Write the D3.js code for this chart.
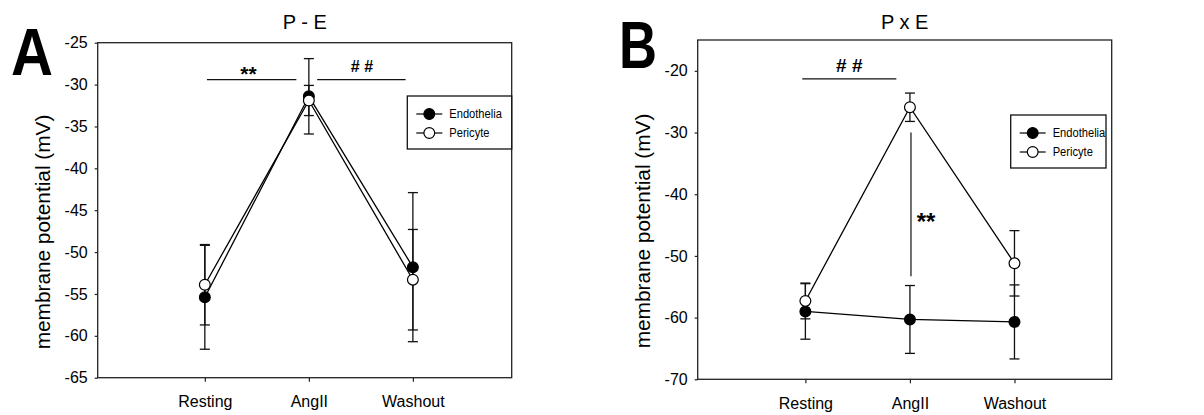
<!DOCTYPE html>
<html>
<head>
<meta charset="utf-8">
<script src="https://cdn.jsdelivr.net/npm/d3@7"></script>
<style>
  body { margin: 0; background: #fff; }
  text { font-family: "Liberation Sans", Arial, sans-serif; fill: #000; }
</style>
</head>
<body>
<svg id="chart" width="1204" height="415"></svg>
<script>
// categories and values (mean, SE)
var categories = ["Resting", "AngII", "Washout"];
var seriesNames = ["Endothelia", "Pericyte"];

// panel A: P - E
var peEndoMean = [-55.4, -31.4, -51.8];
var peEndoErr  = [6.2, 4.5, 8.9];
var pePeriMean = [-53.9, -31.9, -53.3];
var pePeriErr  = [4.8, 1.8, 6.0];
var peTicks = [-25, -30, -35, -40, -45, -50, -55, -60, -65];

// panel B: P x E
var pxeEndoMean = [-59.0, -60.3, -60.7];
var pxeEndoErr  = [4.5, 5.5, 6.0];
var pxePeriMean = [-57.3, -25.9, -51.2];
var pxePeriErr  = [2.9, 2.3, 5.3];
var pxeTicks = [-20, -30, -40, -50, -60, -70];

var svg = d3.select("#chart");

function drawPanel(p) {
  var x = d3.scaleLinear().domain(p.xDomain).range([p.left, p.right]);
  var y = d3.scaleLinear().domain(p.yDomain).range([p.bottom, p.top]);
  var g = svg.append("g");

  // big panel letter
  g.append("text")
    .attr("x", p.letterX).attr("y", p.letterY)
    .attr("font-size", 66).attr("font-weight", "bold")
    .attr("textLength", p.letterW).attr("lengthAdjust", "spacingAndGlyphs")
    .text(p.letter);

  // title
  g.append("text")
    .attr("x", (p.left + p.right) / 2).attr("y", 29)
    .attr("text-anchor", "middle").attr("font-size", 20)
    .text(p.title);

  // y axis
  var yAxis = g.append("g")
    .attr("transform", "translate(" + p.left + ",0)")
    .call(d3.axisLeft(y).tickValues(p.ticks).tickSize(3).tickPadding(7)
      .tickFormat(function(d) { return String(d); }));
  yAxis.select(".domain").remove();
  yAxis.selectAll("text").attr("font-size", 16).style("font-family", "Liberation Sans, Arial, sans-serif");
  yAxis.selectAll("line").attr("stroke", "#222").attr("stroke-width", 1.2);

  // x axis
  var xAxis = g.append("g")
    .attr("transform", "translate(0," + p.bottom + ")")
    .call(d3.axisBottom(x).tickValues([1, 2, 3]).tickSize(4).tickPadding(14)
      .tickFormat(function(d) { return categories[d - 1]; }));
  xAxis.select(".domain").remove();
  xAxis.selectAll("text").attr("font-size", 16).style("font-family", "Liberation Sans, Arial, sans-serif");
  xAxis.selectAll("line").attr("stroke", "#222").attr("stroke-width", 1.2);

  // frame
  g.append("rect")
    .attr("x", p.left).attr("y", p.top)
    .attr("width", p.right - p.left).attr("height", p.bottom - p.top)
    .attr("fill", "none").attr("stroke", "#222").attr("stroke-width", 1.3);

  // y label
  g.append("text")
    .attr("transform", "translate(" + p.ylabX + "," + p.ylabY + ") rotate(-90)")
    .attr("text-anchor", "middle").attr("dominant-baseline", "central")
    .attr("font-size", 20.8)
    .text("membrane potential (mV)");

  var series = [
    { name: seriesNames[0], mean: p.endoMean, err: p.endoErr, fill: "#000" },
    { name: seriesNames[1], mean: p.periMean, err: p.periErr, fill: "#fff" }
  ];

  // error bars
  series.forEach(function(s) {
    s.mean.forEach(function(m, i) {
      var cx = x(i + 1);
      g.append("line").attr("x1", cx).attr("x2", cx)
        .attr("y1", y(m - s.err[i])).attr("y2", y(m + s.err[i]))
        .attr("stroke", "#111").attr("stroke-width", 1.3);
      [m - s.err[i], m + s.err[i]].forEach(function(v) {
        g.append("line").attr("x1", cx - 5).attr("x2", cx + 5)
          .attr("y1", y(v)).attr("y2", y(v))
          .attr("stroke", "#111").attr("stroke-width", 1.3);
      });
    });
  });

  // lines
  var line = d3.line().x(function(d, i) { return x(i + 1); }).y(function(d) { return y(d); });
  series.forEach(function(s) {
    g.append("path").datum(s.mean).attr("d", line)
      .attr("fill", "none").attr("stroke", "#000").attr("stroke-width", 1.3);
  });

  // markers
  series.forEach(function(s) {
    g.selectAll(null).data(s.mean).enter().append("circle")
      .attr("cx", function(d, i) { return x(i + 1); })
      .attr("cy", function(d) { return y(d); })
      .attr("r", 5.4)
      .attr("fill", s.fill).attr("stroke", "#000").attr("stroke-width", 1.2);
  });

  // significance marks
  p.bars.forEach(function(b) {
    g.append("line")
      .attr("x1", x(b.x1)).attr("x2", x(b.x2))
      .attr("y1", y(b.y1)).attr("y2", y(b.y2))
      .attr("stroke", "#111").attr("stroke-width", 1.2);
  });
  p.marks.forEach(function(m) {
    g.append("text")
      .attr("x", x(m.x)).attr("y", y(m.y))
      .attr("text-anchor", "middle").attr("font-size", m.size).attr("font-weight", "bold")
      .text(m.label);
  });

  // legend
  var lg = g.append("g").attr("transform", "translate(" + p.legX + "," + p.legY + ")");
  lg.append("rect").attr("width", p.legW).attr("height", 53)
    .attr("fill", "#fff").attr("stroke", "#111").attr("stroke-width", 1.3);
  series.forEach(function(s, i) {
    var ly = 18 + i * 19;
    lg.append("line").attr("x1", 9).attr("x2", 35).attr("y1", ly).attr("y2", ly)
      .attr("stroke", "#000").attr("stroke-width", 1.2);
    lg.append("circle").attr("cx", 22).attr("cy", ly).attr("r", 5.4)
      .attr("fill", s.fill).attr("stroke", "#000").attr("stroke-width", 1.2);
    lg.append("text").attr("transform", "translate(42," + ly + ") scale(0.89,1)")
      .attr("dominant-baseline", "central")
      .attr("font-size", 12.5).text(s.name);
  });
}

drawPanel({
  letter: "A", letterX: 11, letterY: 75, letterW: 42,
  title: "P - E",
  left: 97.7, right: 511.7, top: 42.7, bottom: 377.7,
  xDomain: [-0.03, 3.95], yDomain: [-65, -25], ticks: peTicks,
  ylabX: 42, ylabY: 232,
  endoMean: peEndoMean, endoErr: peEndoErr, periMean: pePeriMean, periErr: pePeriErr,
  bars: [
    { x1: 1.02, x2: 1.88, y1: -29.4, y2: -29.4 },
    { x1: 2.08, x2: 2.93, y1: -29.4, y2: -29.4 }
  ],
  marks: [
    { label: "**", x: 1.42, y: -29.55, size: 21 },
    { label: "# #", x: 2.51, y: -28.5, size: 16 }
  ],
  legX: 407.3, legY: 96, legW: 104.4
});

drawPanel({
  letter: "B", letterX: 619, letterY: 68, letterW: 38,
  title: "P x E",
  left: 697.7, right: 1111.7, top: 40, bottom: 379.3,
  xDomain: [-0.03, 3.93], yDomain: [-70, -15], ticks: pxeTicks,
  ylabX: 642, ylabY: 231,
  endoMean: pxeEndoMean, endoErr: pxeEndoErr, periMean: pxePeriMean, periErr: pxePeriErr,
  bars: [
    { x1: 0.97, x2: 1.87, y1: -21.3, y2: -21.3 },
    { x1: 2.01, x2: 2.01, y1: -30.0, y2: -53.3 }
  ],
  marks: [
    { label: "# #", x: 1.42, y: -20.15, size: 19 },
    { label: "**", x: 2.155, y: -45.85, size: 24 }
  ],
  legX: 1010.7, legY: 115, legW: 95.3
});
</script>
</body>
</html>
